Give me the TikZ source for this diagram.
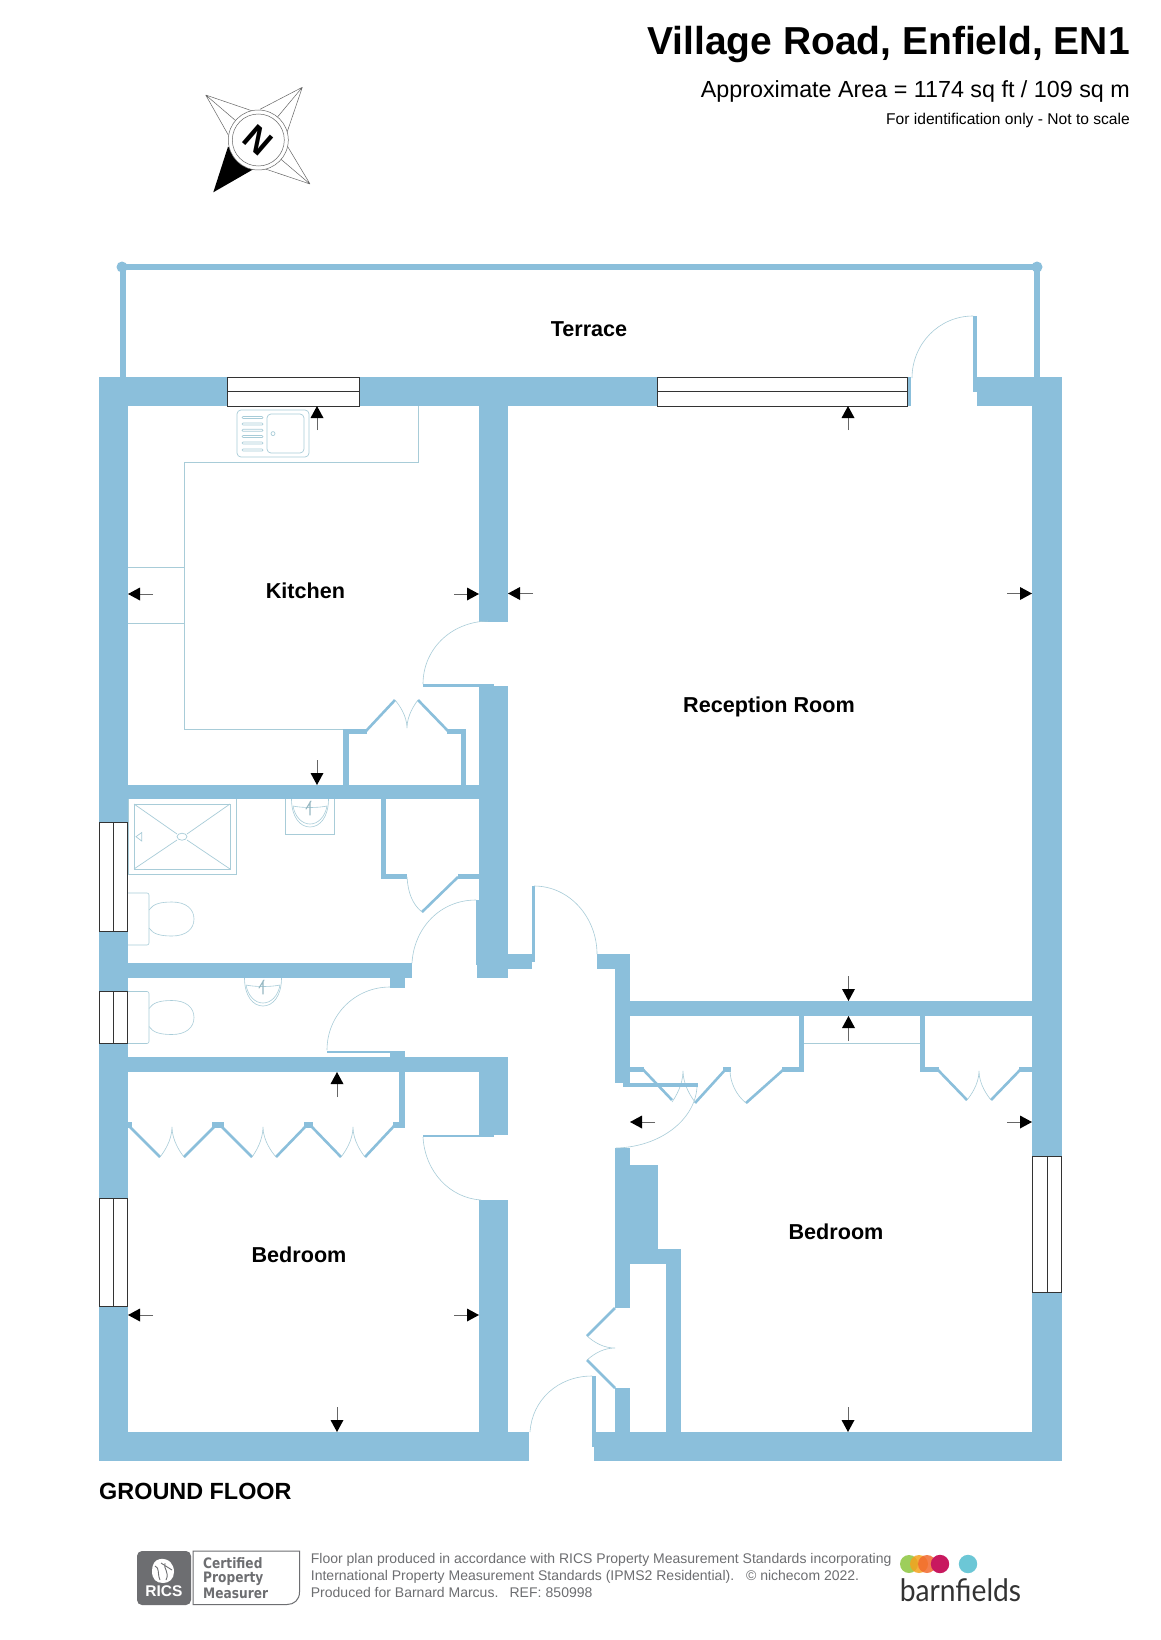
\documentclass[tikz,border=0pt]{standalone}
\usepackage{fontspec}
\usepackage{graphicx}
\setmainfont{Liberation Sans}
\newfontfamily\dvs{DejaVu Sans}
\newfontfamily\latof{Lato}
\definecolor{wallc}{HTML}{8BBFDB}
\definecolor{thinc}{HTML}{A8CCD8}
\definecolor{greyt}{HTML}{6D6E71}
\definecolor{lgreen}{HTML}{8DC63F}
\definecolor{lyellow}{HTML}{F5A21E}
\definecolor{lorange}{HTML}{F26A2E}
\definecolor{lred}{HTML}{C8195F}
\definecolor{lteal}{HTML}{6CC7D6}
\tikzset{
  wall/.style={fill=wallc},
  diag/.style={draw=wallc,line width=2.6pt},
  thinl/.style={draw=thinc,line width=0.7pt},
  arcl/.style={draw=thinc,line width=0.6pt},
  winb/.style={draw=black!80,line width=0.8pt,fill=white},
  winl/.style={draw=black!80,line width=0.8pt},
  room/.style={font=\bfseries\fontsize{21.6}{25}\selectfont,inner sep=0pt},
  tailg/.style={draw=black!60,line width=0.9pt},
  foot/.style={font=\fontsize{14}{16}\selectfont,text=greyt,anchor=west,inner sep=0pt},
  cert/.style={font=\dvs\bfseries\fontsize{12.2}{14}\selectfont,text=greyt,anchor=west,inner sep=0pt}
}
\newcommand\wl[4]{\fill[wall] (#1,#2) rectangle (#3,#4);}
\newcommand\winh[4]{\draw[winb] (#1,#2) rectangle (#3,#4);\draw[winl] (#1,{(#2+#4)/2}) -- (#3,{(#2+#4)/2});}
\newcommand\winv[4]{\draw[winb] (#1,#2) rectangle (#3,#4);\draw[winl] ({(#1+#3)/2},#2) -- ({(#1+#3)/2},#4);}
\newcommand\aup[3]{\draw[tailg] (#1,#2+#3) -- (#1,#2+11);\fill[black] (#1,#2) -- (#1-6.5,#2+12) -- (#1+6.5,#2+12) -- cycle;}
\newcommand\adown[3]{\draw[tailg] (#1,#2-#3) -- (#1,#2-11);\fill[black] (#1,#2) -- (#1-6.5,#2-12) -- (#1+6.5,#2-12) -- cycle;}
\newcommand\aleft[3]{\draw[tailg] (#1+#3,#2) -- (#1+11,#2);\fill[black] (#1,#2) -- (#1+12,#2-6.5) -- (#1+12,#2+6.5) -- cycle;}
\newcommand\aright[3]{\draw[tailg] (#1-#3,#2) -- (#1-11,#2);\fill[black] (#1,#2) -- (#1-12,#2-6.5) -- (#1-12,#2+6.5) -- cycle;}
% cusp of a pair of folding door arcs: cx cy leftx rightx endy
\newcommand\cusp[5]{\draw[arcl] (#3,#5) .. controls ({0.7*#3+0.3*#1},{#2+0.85*(#5-#2)}) and (#1,{#2+0.45*(#5-#2)}) .. (#1,#2) .. controls (#1,{#2+0.45*(#5-#2)}) and ({0.7*#4+0.3*#1},{#2+0.85*(#5-#2)}) .. (#4,#5);}
\newcommand\wcpan[1]{\begin{scope}[shift={(0,#1)}]
  \draw[arcl,rounded corners=2pt] (128,-26) -- (149,-26) -- (149,26) -- (128,26);
  \draw[arcl] (149,-9) .. controls (153,-15) and (160,-17) .. (172,-17) .. controls (186,-17) and (194,-10) .. (194,0) .. controls (194,10) and (186,17) .. (172,17) .. controls (160,17) and (153,15) .. (149,9);
\end{scope}}
\newcommand\basin[2]{\begin{scope}[shift={(#1,#2)}]
  \draw[arcl] (-18.5,0) .. controls (-18.5,18) and (-10,28) .. (0,28) .. controls (10,28) and (18.5,18) .. (18.5,0);
  \draw[arcl] (-17,7) .. controls (-15,18) and (-8,25) .. (0,25) .. controls (8,25) and (15,18) .. (17,7) .. controls (8,9) and (-8,9) .. (-17,7);
  \draw[thinc!90!black,line width=1.1pt,line cap=round] (0,16) -- (0,3) (-4,10) -- (1,2);
\end{scope}}
\begin{document}
\begin{tikzpicture}[x=1pt,y=-1pt]
\useasboundingbox (0,0) rectangle (1160,1640);
\fill[white] (0,0) rectangle (1160,1640);

% ---- heading
\node[anchor=east,inner sep=0pt,font=\bfseries\fontsize{39}{44}\selectfont] (title) at (1130,44.5) {Village Road, Enfield, EN1};
\node[anchor=east,inner sep=0pt,font=\fontsize{23.3}{27}\selectfont] (area) at (1130,91) {Approximate Area = 1174 sq ft / 109 sq m};
\node[anchor=east,inner sep=0pt,font=\fontsize{15.6}{18}\selectfont] (ident) at (1130,120) {For identification only - Not to scale};

% ---- compass
\begin{scope}[draw=black!60,line width=0.5pt]
  \draw (205.7,95) -- (228.3,135) (205.7,95) -- (251.7,110.7) (205.7,95) -- (258.3,140);
  \draw (302.3,87.3) -- (260,109.3) (302.3,87.3) -- (286.7,133.3) (302.3,87.3) -- (258.3,140);
  \draw (310,184) -- (286.7,145) (310,184) -- (263.3,168.3) (310,184) -- (258.3,140);
  \fill[black] (213.3,192.3) -- (228,146.7) -- (255,168.3) -- cycle;
  \draw[fill=white] (258.3,140) circle (30);
  \draw (258.3,140) circle (26);
\end{scope}
\node[inner sep=0pt,rotate=139,font=\bfseries\fontsize{35}{35}\selectfont] (north) at (258,140) {N};

% ---- terrace rail
\draw[draw=wallc,line width=5.5pt] (123,377) -- (123,267) -- (1037,267) -- (1037,377);
\fill[wall] (122,267) circle (5.5) (1037,267) circle (5.5);

% ---- main walls
\wl{99}{377}{911}{406}
\wl{973}{377}{1062}{392}
\wl{976.5}{392}{1062}{406}
\wl{973}{316}{977}{377}
\wl{99}{377}{128}{1461}
\wl{1032}{377}{1062}{1461}
\wl{99}{1432}{529}{1461}
\wl{592}{1432}{1062}{1447}
\wl{594}{1447}{1062}{1461}
\wl{592}{1376}{595.5}{1447}
% central spine
\wl{479}{406}{508}{622}
\wl{479}{686}{508}{978}
\wl{423}{684}{494}{686.5}
\wl{476}{900}{479}{965}
\wl{477}{963}{508}{978}
\wl{508}{954}{532}{969}
\wl{532}{886}{535}{962}
% hall / reception
\wl{597}{954}{630}{969}
\wl{615}{954}{630}{1083}
\wl{630}{1001}{1032}{1016}
% kitchen / bath / wc / bedroom partitions
\wl{128}{785}{479}{799}
\wl{128}{963}{412}{978}
\wl{390}{978}{405}{988}
\wl{327}{1051}{390}{1053}
\wl{390}{1051}{405}{1057}
\wl{128}{1057}{508}{1072}
\wl{479}{1057}{508}{1135}
\wl{423}{1135}{494}{1137}
\wl{479}{1200}{508}{1432}
% chimney block and cupboard in bedroom 2
\wl{615}{1148}{630}{1165}
\wl{615}{1165}{658}{1249}
\wl{615}{1249}{681}{1264}
\wl{666}{1264}{681}{1432}
\wl{615}{1264}{630}{1308}
\wl{615}{1388}{630}{1432}
\draw[diag] (615,1308) -- (587,1336) (587,1360) -- (615,1388);
\draw[arcl] (587,1336) .. controls (595,1343) and (604,1348) .. (615,1348) .. controls (604,1348) and (595,1353) .. (587,1360);
\draw[arcl] (530,1432) .. controls (532,1400) and (558,1376) .. (592,1376);
% kitchen cupboard
\wl{343}{729}{348.5}{785}
\wl{343}{729}{367}{733.5}
\wl{461}{729}{466}{785}
\wl{447}{729}{466}{733.5}
\draw[diag] (366,731) -- (395,700) (418,700) -- (448,731);
\cusp{407}{728}{395}{418}{700}
% bath cupboard
\wl{381}{799}{386}{879}
\wl{381}{874}{407}{879}
\wl{458}{874}{479}{879}
\draw[diag] (422,912) -- (458,877);
\draw[arcl] (407,877) .. controls (408,892) and (412,904) .. (422,912);
% bedroom 1 wardrobe
\wl{399.3}{1072}{405}{1127.7}
\wl{393}{1122}{405}{1127.7}
\wl{304}{1122}{313}{1127.5}
\wl{212}{1122}{224}{1127.5}
\wl{128}{1122}{132}{1127.5}
\draw[diag] (394,1126) -- (365,1157) (341,1157) -- (312,1127) (305,1127) -- (276,1157) (252,1157) -- (222,1127) (214,1127) -- (184,1157) (160,1157) -- (130,1127);
\cusp{353}{1127}{341}{365}{1157}
\cusp{263}{1127}{252}{276}{1157}
\cusp{172}{1127}{160}{184}{1157}
% bedroom 2 closets
\wl{630}{1067}{643.5}{1072}
\wl{723}{1067}{731}{1072}
\wl{782}{1067}{804}{1072}
\wl{798.6}{1016}{804}{1072}
\wl{920}{1016}{925.4}{1072}
\wl{920}{1067}{939}{1072}
\wl{1019}{1067}{1032}{1072}
\draw[diag] (642.5,1069) -- (672,1100) (695,1103) -- (725,1070) (746,1103) -- (783,1070) (938,1070) -- (967,1100) (991,1100) -- (1020,1070);
\cusp{683}{1071}{672}{695}{1102}
\draw[arcl] (730,1070) .. controls (730,1082) and (736,1095) .. (746,1103);
\cusp{979}{1071}{967}{991}{1100}
\draw[thinc,line width=1pt] (804,1043) -- (920,1043);
\wl{623}{1083}{698}{1086.7}

% ---- door swings
\draw[arcl] (912,378) .. controls (912,344) and (939,316) .. (973,316);
\draw[arcl] (423,684) .. controls (423,650) and (450,622) .. (488,621);
\draw[arcl] (412,963) .. controls (414,928) and (440,900) .. (476,900);
\draw[arcl] (327,1050) .. controls (327,1015) and (355,987) .. (390,987);
\draw[arcl] (423,1137) .. controls (425,1172) and (450,1198) .. (481,1200);
\draw[arcl] (534,886) .. controls (570,886) and (597,918) .. (597,954);
\draw[arcl] (697,1087) .. controls (695,1120) and (660,1147) .. (616,1148);

% ---- windows
\winh{227}{377}{359}{406}
\winh{657}{377}{907}{406}
\winv{99}{822.7}{127}{931}
\winv{99}{991.7}{127}{1043}
\winv{99}{1198}{127.5}{1306.5}
\winv{1032.5}{1156}{1061.5}{1292}

% ---- kitchen fittings
\draw[thinl] (418,406) -- (418,462) -- (184,462) -- (184,729) -- (343,729);
\draw[thinl] (128,567) -- (184,567) (128,623) -- (184,623);
\draw[thinl,rounded corners=4pt] (237,410) rectangle (309,457);
\draw[thinl,rounded corners=4pt] (267,414) rectangle (304,453);
\foreach \sy in {417.5,424,430.3,436.5,443,450}
  \draw[thinl,rounded corners=1pt] (242,\sy-1) rectangle (263,\sy+1);
\draw[thinl] (273,433.6) circle (2);

% ---- shower room
\draw[thinl] (128,799) -- (128,874) -- (236,874) -- (236,799);
\draw[thinl] (134,804) rectangle (230,869);
\draw[thinl] (134,804) -- (177,834) (230,804) -- (187,834) (134,869) -- (177,840) (230,869) -- (187,840);
\draw[thinl] (182,836.7) ellipse (5 and 3.5);
\draw[thinl] (136,836.7) -- (141.7,832.5) -- (141.7,841) -- cycle;
\draw[thinl] (285,799) -- (285,834) -- (334,834) -- (334,799);
\basin{310}{799}
\wcpan{919}
\basin{263}{978}
\wcpan{1017.5}

% ---- arrows
\aup{317}{406}{24}
\aup{848}{406}{24}
\adown{317}{785}{25}
\aleft{128}{594}{25}
\aright{479}{594}{25}
\aleft{508}{593.5}{25}
\aright{1032}{593.5}{25}
\adown{848.5}{1001}{25}
\aup{848.5}{1016}{25}
\aup{337}{1072}{25}
\aleft{630}{1122}{25}
\aright{1032}{1122}{25}
\aleft{128}{1315}{25}
\aright{479}{1315}{25}
\adown{337}{1432}{25}
\adown{848}{1432}{25}

% ---- room labels
\node[room] (terrace) at (589,329.5) {Terrace};
\node[room] (kitchen) at (305.5,591) {Kitchen};
\node[room] (reception) at (769,707) {Reception Room};
\node[room] (bed1) at (299,1255) {Bedroom};
\node[room] (bed2) at (836,1232) {Bedroom};
\node[anchor=west,inner sep=0pt,font=\bfseries\fontsize{23.4}{28}\selectfont] (floor) at (99,1491.5) {GROUND FLOOR};

% ---- certification badge
\fill[greyt,rounded corners=5pt] (137,1605) -- (137,1551) -- (191,1551) -- (191,1605) -- cycle;
\fill[white] (160,1559) .. controls (169,1558) and (174,1564) .. (174,1572) .. controls (174,1579) and (169,1583) .. (163,1583) .. controls (156,1583) and (152,1579) .. (152,1571) .. controls (152,1564) and (155,1560) .. (160,1559) -- cycle;
\draw[greyt,line width=0.9pt] (155,1566) .. controls (160,1568) and (157,1573) .. (160,1580) (165,1563) .. controls (163,1569) and (170,1572) .. (166,1580) (161,1563) -- (172,1570);
\node[inner sep=0pt,text=white,font=\bfseries\fontsize{15.5}{17}\selectfont] (ricsname) at (164,1591) {RICS};
\draw[greyt,line width=1pt] (193,1551) -- (299.5,1551) -- (299.5,1592) .. controls (299.5,1600) and (294,1604.5) .. (287,1604.5) -- (193,1604.5) -- cycle;
\node[cert] (c1) at (203,1563.5) {\scalebox{1}[1.18]{Certified}};
\node[cert] (c2) at (203,1578.5) {\scalebox{1}[1.18]{Property}};
\node[cert] (c3) at (203,1593) {\scalebox{1}[1.18]{Measurer}};
\node[foot] (f1) at (310.7,1560) {Floor plan produced in accordance with RICS Property Measurement Standards incorporating};
\node[foot] (f2) at (310.7,1576.5) {International Property Measurement Standards (IPMS2 Residential).\hspace{0.85em}© nichecom 2022.};
\node[foot] (f3) at (310.7,1592) {Produced for Barnard Marcus.\hspace{0.8em}REF:\hspace{0.3em}850998};

% ---- agent logo
\begin{scope}[fill opacity=0.85]
  \fill[lgreen] (909,1564) circle (9);
  \fill[lyellow] (919,1564) circle (9);
  \fill[lorange] (927,1564) circle (9);
\end{scope}
\fill[lred] (940,1564) circle (9.2);
\fill[lteal] (968,1564) circle (9.2);
\node[inner sep=0pt,text=black!80,font=\latof\fontsize{31}{34}\selectfont] (barn) at (960.5,1590) {\scalebox{0.91}[1]{barnfields}};
\end{tikzpicture}
\end{document}
